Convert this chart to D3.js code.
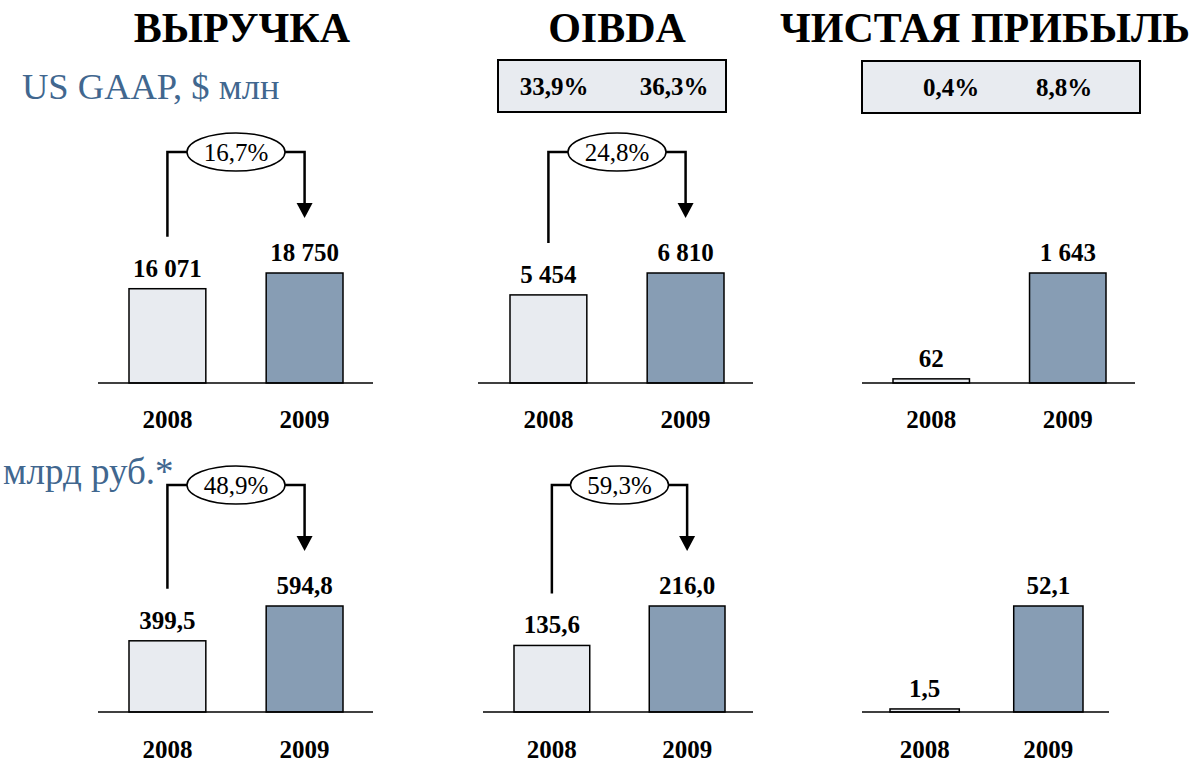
<!DOCTYPE html>
<html>
<head>
<meta charset="utf-8">
<script src="https://cdn.jsdelivr.net/npm/d3@7"></script>
<style>
  body { margin: 0; background: #fff; }
  svg { display: block; font-family: "Liberation Serif", "Times New Roman", serif; }
</style>
</head>
<body>
<div id="chart"></div>
<script>
// chart values
const years = ["2008", "2009"];
const titles = ["ВЫРУЧКА", "OIBDA", "ЧИСТАЯ ПРИБЫЛЬ"];
const rowLabels = ["US GAAP, $ млн", "млрд руб.*"];

const revenueUsd = [16071, 18750];
const oibdaUsd = [5454, 6810];
const netUsd = [62, 1643];

const revenueRub = [399.5, 594.8];
const oibdaRub = [135.6, 216.0];
const netRub = [1.5, 52.1];

const growthUsd = ["16,7%", "24,8%", null];
const growthRub = ["48,9%", "59,3%", null];

const oibdaMargin = ["33,9%", "36,3%"];
const netMargin = ["0,4%", "8,8%"];

// formatting, russian style numbers
const loc = d3.formatLocale({decimal: ",", thousands: " ", grouping: [3], currency: ["", ""]});
const fmtUsd = loc.format(",.0f");
const fmtRub = loc.format(".1f");

const width = 1195, height = 764;
const light = "#e8ebf0", dark = "#879db4";

// rows: baseline and max bar height
const rows = [
    {base: 383, h: 110, yearY: 428},
    {base: 712, h: 106, yearY: 758}
];

const panels = [
    {row: 0, values: revenueUsd, growth: growthUsd[0], fmt: fmtUsd, bars: [129, 343], axis: [98, 373]},
    {row: 0, values: oibdaUsd, growth: growthUsd[1], fmt: fmtUsd, bars: [510, 724], axis: [478, 753]},
    {row: 0, values: netUsd, growth: growthUsd[2], fmt: fmtUsd, bars: [893, 1106], axis: [862, 1135]},
    {row: 1, values: revenueRub, growth: growthRub[0], fmt: fmtRub, bars: [129, 343], axis: [98, 373]},
    {row: 1, values: oibdaRub, growth: growthRub[1], fmt: fmtRub, bars: [514, 725], axis: [483, 753]},
    {row: 1, values: netRub, growth: growthRub[2], fmt: fmtRub, bars: [890, 1083], axis: [862, 1109]}
];

const svg = d3.select("#chart").append("svg")
    .attr("width", width)
    .attr("height", height);

// titles
const titleX = [242, 617, 985];
svg.selectAll(".title")
    .data(titles)
    .enter().append("text")
    .attr("class", "title")
    .attr("x", (d, i) => titleX[i])
    .attr("y", 42)
    .attr("text-anchor", "middle")
    .attr("font-size", 42)
    .attr("font-weight", "bold")
    .text(d => d);

// row labels
svg.append("text")
    .attr("x", 22).attr("y", 99)
    .attr("font-size", 36.5)
    .attr("fill", "#41678f")
    .text(rowLabels[0]);
svg.append("text")
    .attr("x", 3).attr("y", 484)
    .attr("font-size", 37)
    .attr("fill", "#41678f")
    .text(rowLabels[1]);

// margin boxes
const boxes = [
    {x: 498, y: 60, w: 228, h: 52, tx: [554, 674], vals: oibdaMargin},
    {x: 862, y: 61, w: 278, h: 52, tx: [951, 1064], vals: netMargin}
];
boxes.forEach(b => {
    svg.append("rect")
        .attr("x", b.x).attr("y", b.y)
        .attr("width", b.w).attr("height", b.h)
        .attr("fill", light)
        .attr("stroke", "#000")
        .attr("stroke-width", 2);
    svg.selectAll(null)
        .data(b.vals)
        .enter().append("text")
        .attr("x", (d, i) => b.tx[i])
        .attr("y", b.y + 35)
        .attr("text-anchor", "middle")
        .attr("font-size", 25)
        .attr("font-weight", "bold")
        .text(d => d);
});

panels.forEach(p => {
    let r = rows[p.row];
    let g = svg.append("g");

    let x = d3.scaleBand()
        .domain(years)
        .range(p.bars)
        .paddingInner(0.44)
        .paddingOuter(0);

    let y = d3.scaleLinear()
        .domain([0, d3.max(p.values)])
        .range([r.base, r.base - r.h]);

    // bars
    g.selectAll(".bar")
        .data(p.values)
        .enter().append("rect")
        .attr("class", "bar")
        .attr("x", (d, i) => x(years[i]))
        .attr("y", d => y(d))
        .attr("width", x.bandwidth())
        .attr("height", d => r.base - y(d))
        .attr("fill", (d, i) => i === 0 ? light : dark)
        .attr("stroke", "#000")
        .attr("stroke-width", 1.5);

    // baseline
    g.append("line")
        .attr("x1", p.axis[0]).attr("x2", p.axis[1])
        .attr("y1", r.base).attr("y2", r.base)
        .attr("stroke", "#000")
        .attr("stroke-width", 1.5);

    // value labels
    g.selectAll(".val")
        .data(p.values)
        .enter().append("text")
        .attr("class", "val")
        .attr("x", (d, i) => x(years[i]) + x.bandwidth() / 2)
        .attr("y", d => y(d) - 12)
        .attr("text-anchor", "middle")
        .attr("font-size", 25)
        .attr("font-weight", "bold")
        .text(d => p.fmt(d));

    // year axis
    let axis = g.append("g")
        .attr("transform", `translate(0, ${r.base})`)
        .call(d3.axisBottom(x).tickSize(0));
    axis.select(".domain").remove();
    axis.selectAll("text")
        .attr("y", r.yearY - r.base)
        .attr("dy", 0)
        .attr("font-family", "Liberation Serif, Times New Roman, serif")
        .attr("font-size", 25)
        .attr("font-weight", "bold")
        .attr("fill", "#000");

    // growth bracket
    if (p.growth) {
        let xl = x(years[0]) + x.bandwidth() / 2;
        let xr = x(years[1]) + x.bandwidth() / 2;
        let top0 = y(p.values[0]), top1 = y(p.values[1]);
        let yh = top1 - 121;
        let tip = top1 - 55;
        let cx = (xl + xr) / 2;

        g.append("path")
            .attr("d", `M${xl},${top0 - 52}V${yh}H${xr}V${tip - 14}`)
            .attr("fill", "none")
            .attr("stroke", "#000")
            .attr("stroke-width", 2.5);
        g.append("path")
            .attr("d", `M${xr - 8},${tip - 15}L${xr + 8},${tip - 15}L${xr},${tip}Z`)
            .attr("fill", "#000");
        g.append("ellipse")
            .attr("cx", cx).attr("cy", yh)
            .attr("rx", 49).attr("ry", 19)
            .attr("fill", "#fff")
            .attr("stroke", "#000")
            .attr("stroke-width", 1.5);
        g.append("text")
            .attr("x", cx).attr("y", yh + 9)
            .attr("text-anchor", "middle")
            .attr("font-size", 25)
            .text(p.growth);
    }
});
</script>
</body>
</html>
